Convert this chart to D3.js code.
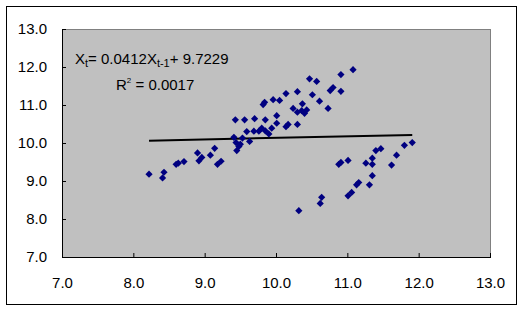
<!DOCTYPE html>
<html>
<head>
<meta charset='utf-8'>
<title>Xt vs Xt-1</title>
<script src='https://cdn.jsdelivr.net/npm/d3@7'></script>
<style>
  body {margin:0; background:#fff;}
  svg text {font-family:'Liberation Sans',Arial,sans-serif; font-size:15px; fill:#000;}
</style>
</head>
<body>
<svg id='chart' width='529' height='310'></svg>
<script>
// x(t-1) on the horizontal axis, x(t) on the vertical axis
var xPrev=[8.22,8.41,8.43,8.60,8.63,8.71,8.90,8.92,8.96,9.08,9.14,9.18,9.23,
           9.41,9.43,9.44,9.45,9.48,9.50,9.53,9.56,9.59,9.63,9.69,9.70,9.76,
           9.80,9.82,9.84,9.85,9.85,9.90,9.94,9.96,10.01,10.01,10.05,10.14,
           10.14,10.17,10.24,10.30,10.30,10.30,10.32,10.36,10.37,10.40,10.43,
           10.47,10.51,10.57,10.61,10.62,10.64,10.73,10.76,10.80,10.88,10.91,
           10.91,10.91,11.01,11.01,11.06,11.08,11.13,11.16,11.26,11.31,11.35,
           11.35,11.35,11.40,11.47,11.62,11.69,11.80,11.91];
var xCurr=[9.18,9.08,9.23,9.44,9.47,9.51,9.74,9.53,9.62,9.68,9.86,9.44,9.52,
           10.15,10.61,10.01,9.80,9.91,9.97,10.13,10.61,10.30,10.04,10.31,10.64,10.31,
           10.39,11.01,11.07,10.61,10.32,10.24,10.39,11.14,10.52,10.72,11.12,11.30,
           10.43,10.49,10.91,10.81,10.49,11.35,8.22,10.85,11.03,10.78,10.87,
           11.69,11.27,11.62,11.10,8.41,8.57,10.91,11.38,11.46,9.44,11.80,
           11.36,9.49,9.54,8.61,8.70,11.93,8.90,8.96,9.47,8.90,9.60,
           9.14,9.44,9.80,9.85,9.42,9.68,9.94,10.01];
var ticks=[7,8,9,10,11,12,13];
var slope=0.0412, intercept=9.7229, rSquared=0.0017;

var svg=d3.select('#chart');
var pL=62, pR=490, pT=29, pB=257;
var x=d3.scaleLinear().domain([7,13]).range([pL,pR]);
var y=d3.scaleLinear().domain([7,13]).range([pB,pT]);

// chart frame
svg.append('rect').attr('x',6.5).attr('y',6.5).attr('width',510).attr('height',298)
   .attr('fill','#fff').attr('stroke','#000').attr('stroke-width',1);
// plot area
svg.append('rect').attr('x',pL+0.5).attr('y',pT+0.5)
   .attr('width',pR-pL).attr('height',pB-pT)
   .attr('fill','#c0c0c0').attr('stroke','#808080');

var fmt=d3.format('.1f');
svg.append('g').attr('transform','translate(0,'+pB+')')
   .call(d3.axisBottom(x).tickValues(ticks).tickFormat(fmt).tickSize(-4).tickPadding(20))
   .call(function(g){g.select('.domain').remove();
                     g.selectAll('text').style('font-size','15px').style('font-family',null);});
svg.append('g').attr('transform','translate('+pL+',0)')
   .call(d3.axisLeft(y).tickValues(ticks).tickFormat(fmt).tickSize(-4).tickPadding(15))
   .call(function(g){g.select('.domain').remove();
                     g.selectAll('text').style('font-size','15px').style('font-family',null);});
// black axis lines
svg.append('line').attr('x1',pL+0.5).attr('x2',pL+0.5).attr('y1',pT).attr('y2',pB+1)
   .attr('stroke','#000');
svg.append('line').attr('x1',pL).attr('x2',pR+1).attr('y1',pB+0.5).attr('y2',pB+0.5)
   .attr('stroke','#000');

// trend line over the data range
var xr=d3.extent(xPrev);
svg.append('line')
   .attr('x1',x(xr[0])).attr('y1',y(slope*xr[0]+intercept))
   .attr('x2',x(xr[1])).attr('y2',y(slope*xr[1]+intercept))
   .attr('stroke','#000').attr('stroke-width',2);

// diamond markers
var diamond=d3.symbol().type(d3.symbolSquare).size(26);
svg.append('g').selectAll('path').data(xPrev).enter().append('path')
   .attr('d',diamond)
   .attr('transform',function(d,i){return 'translate('+x(d)+','+y(xCurr[i])+') rotate(45)';})
   .attr('fill','#000080');

// equation label
var eq=svg.append('text').attr('x',75).attr('y',64);
eq.append('tspan').text('X');
eq.append('tspan').attr('dy',3).style('font-size','11px').text('t');
eq.append('tspan').attr('dy',-3).text('= '+slope+'X');
eq.append('tspan').attr('dy',3).style('font-size','11px').text('t-1');
eq.append('tspan').attr('dy',-3).text('+ '+intercept);
var r2=svg.append('text').attr('x',116).attr('y',90);
r2.append('tspan').text('R');
r2.append('tspan').attr('dy',-7).style('font-size','8px').text('2');
r2.append('tspan').attr('dy',7).text(' = '+rSquared);
</script>
</body>
</html>
